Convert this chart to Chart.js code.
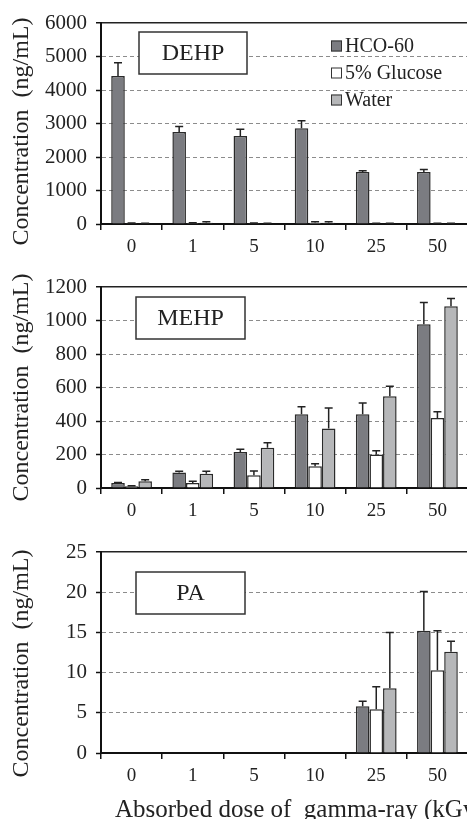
<!DOCTYPE html>
<html>
<head>
<meta charset="utf-8">
<script src="https://cdn.jsdelivr.net/npm/chart.js@4"></script>
<style>
  body { margin: 0; width: 467px; height: 819px; overflow: hidden; background: #fff; position: relative; }
  .panel { position: absolute; left: 0; }
</style>
</head>
<body>
<div class="panel" style="top:0px"><canvas id="dehp" width="476" height="264"></canvas></div>
<div class="panel" style="top:264px"><canvas id="mehp" width="476" height="264"></canvas></div>
<div class="panel" style="top:528px"><canvas id="pa" width="476" height="300"></canvas></div>
<script>
var doses = ['0', '1', '5', '10', '25', '50'];
var seriesNames = ['HCO-60', '5% Glucose', 'Water'];
var seriesColors = ['#7b7c81', '#ffffff', '#b6b7b9'];

// DEHP (ng/mL), mean and upper error
var dehpHco = [4420, 2750, 2630, 2860, 1550, 1550];
var dehpHcoErr = [390, 160, 200, 220, 40, 80];
var dehpGlu = [25, 30, 25, 40, 20, 20];
var dehpGluErr = [5, 10, 5, 30, 5, 5];
var dehpWat = [20, 35, 20, 35, 20, 20];
var dehpWatErr = [5, 35, 5, 35, 5, 5];
var dehpTicks = [0, 1000, 2000, 3000, 4000, 5000, 6000];

// MEHP
var mehpHco = [30, 92, 215, 440, 440, 978];
var mehpHcoErr = [3, 8, 17, 45, 68, 130];
var mehpGlu = [10, 30, 76, 130, 200, 418];
var mehpGluErr = [3, 10, 26, 15, 22, 37];
var mehpWat = [40, 85, 240, 355, 548, 1085];
var mehpWatErr = [10, 15, 30, 123, 60, 47];
var mehpTicks = [0, 200, 400, 600, 800, 1000, 1200];

// PA (not detected below 25 kGy)
var paHco = [null, null, null, null, 5.8, 15.2];
var paHcoErr = [0, 0, 0, 0, 0.65, 4.9];
var paGlu = [null, null, null, null, 5.45, 10.3];
var paGluErr = [0, 0, 0, 0, 2.8, 4.9];
var paWat = [null, null, null, null, 8.05, 12.6];
var paWatErr = [0, 0, 0, 0, 6.95, 1.3];
var paTicks = [0, 5, 10, 15, 20, 25];

var yTitle = 'Concentration  (ng/mL)';
var xTitle = 'Absorbed dose of  gamma-ray (kGy)';

Chart.defaults.font.family = "'Liberation Serif', 'DejaVu Serif', serif";
Chart.defaults.color = '#222';

var errorBars = {
  id: 'errorBars',
  afterDatasetsDraw: function(chart) {
    var ctx = chart.ctx, y = chart.scales.y;
    ctx.save();
    ctx.strokeStyle = '#222';
    ctx.lineWidth = 1.5;
    chart.data.datasets.forEach(function(ds, di) {
      var meta = chart.getDatasetMeta(di);
      meta.data.forEach(function(bar, i) {
        var v = ds.data[i], e = ds.errors[i];
        if (v == null || !e) return;
        var top = y.getPixelForValue(v + e);
        ctx.beginPath();
        ctx.moveTo(bar.x, bar.y);
        ctx.lineTo(bar.x, top);
        ctx.moveTo(bar.x - 4, top);
        ctx.lineTo(bar.x + 4, top);
        ctx.stroke();
      });
    });
    ctx.restore();
  }
};

// panel name box, axis titles, legend
var deco = {
  id: 'deco',
  afterDraw: function(chart, args, opts) {
    var ctx = chart.ctx, a = chart.chartArea;
    ctx.save();
    ctx.translate(22, (a.top + a.bottom) / 2 + opts.titleShift);
    ctx.rotate(-Math.PI / 2);
    ctx.font = "24px 'Liberation Serif', serif";
    ctx.fillStyle = '#222';
    ctx.textAlign = 'center';
    ctx.textBaseline = 'middle';
    ctx.fillText(yTitle, 0, 0);
    ctx.restore();

    if (opts.xTitle) {
      ctx.save();
      ctx.font = "25px 'Liberation Serif', serif";
      ctx.fillStyle = '#222';
      ctx.textAlign = 'left';
      ctx.textBaseline = 'middle';
      ctx.fillText(xTitle, a.left + 14, a.bottom + 57);
      ctx.restore();
    }

    var b = opts.box;
    ctx.save();
    ctx.fillStyle = '#fff';
    ctx.strokeStyle = '#333';
    ctx.lineWidth = 1.5;
    ctx.fillRect(a.left + b.dx, a.top + b.dy, b.w, b.h);
    ctx.strokeRect(a.left + b.dx, a.top + b.dy, b.w, b.h);
    ctx.fillStyle = '#222';
    ctx.font = "24px 'Liberation Serif', serif";
    ctx.textAlign = 'center';
    ctx.textBaseline = 'middle';
    ctx.fillText(b.text, a.left + b.dx + b.w / 2, a.top + b.dy + b.h / 2 + 1);
    ctx.restore();

    if (opts.legend) {
      ctx.save();
      ctx.font = "20px 'Liberation Serif', serif";
      ctx.textBaseline = 'middle';
      chart.data.datasets.forEach(function(ds, i) {
        var lx = a.left + 230, ly = a.top + 23 + i * 27;
        ctx.fillStyle = ds.backgroundColor;
        ctx.fillRect(lx, ly - 5.5, 11, 11);
        ctx.strokeStyle = '#333';
        ctx.lineWidth = 1;
        ctx.strokeRect(lx + 0.5, ly - 5, 10, 10);
        ctx.fillStyle = '#222';
        ctx.fillText(ds.label, lx + 14, ly + 1);
      });
      ctx.restore();
    }
  }
};

function makePanel(id, hco, hcoErr, glu, gluErr, wat, watErr, ticks, opts) {
  var max = ticks[ticks.length - 1];
  var values = [hco, glu, wat], errs = [hcoErr, gluErr, watErr];
  var isTop = function(c) { return c.tick && c.tick.value === max; };
  var datasets = seriesNames.map(function(name, i) {
    return {
      label: name,
      data: values[i],
      errors: errs[i],
      backgroundColor: seriesColors[i],
      borderColor: '#2a2a2a',
      borderWidth: 1.5,
      categoryPercentage: 0.666,
      barPercentage: 1.0
    };
  });
  return new Chart(document.getElementById(id), {
    type: 'bar',
    data: { labels: doses, datasets: datasets },
    options: {
      responsive: false,
      animation: false,
      layout: { padding: { top: opts.padTop, right: 8, left: 0, bottom: 0 } },
      plugins: {
        legend: { display: false },
        tooltip: { enabled: false },
        deco: opts.deco
      },
      scales: {
        x: {
          grid: { offset: true, drawOnChartArea: false, tickLength: 6, color: '#111', lineWidth: 1.5 },
          border: { display: true, color: '#111', width: 2 },
          ticks: { font: { size: 19 }, color: '#222', padding: 6, maxRotation: 0 },
          afterFit: function(s) { s.height = opts.xHeight; }
        },
        y: {
          min: 0,
          max: max,
          afterBuildTicks: function(s) { s.ticks = ticks.map(function(v) { return { value: v }; }); },
          grid: {
            color: function(c) { return isTop(c) ? '#222' : '#8c8c8c'; },
            lineWidth: function(c) { return isTop(c) ? 1.5 : 1; },
            tickLength: 5,
            tickColor: '#111',
            tickWidth: 1.5,
            tickBorderDash: []
          },
          border: {
            display: true, color: '#111', width: 2,
            dash: function(c) { return isTop(c) ? [] : [4, 3]; }
          },
          ticks: {
            font: { size: 21 }, color: '#222', padding: 9,
            callback: function(v) { return String(v); }
          },
          afterFit: function(s) { s.width = 101; }
        }
      }
    },
    plugins: [errorBars, deco]
  });
}

makePanel('dehp', dehpHco, dehpHcoErr, dehpGlu, dehpGluErr, dehpWat, dehpWatErr, dehpTicks, {
  padTop: 23, xHeight: 40,
  deco: { titleShift: 8, legend: true, box: { text: 'DEHP', dx: 38, dy: 9, w: 108, h: 42 } }
});
makePanel('mehp', mehpHco, mehpHcoErr, mehpGlu, mehpGluErr, mehpWat, mehpWatErr, mehpTicks, {
  padTop: 23, xHeight: 40,
  deco: { titleShift: 0, legend: false, box: { text: 'MEHP', dx: 35, dy: 10, w: 109, h: 42 } }
});
makePanel('pa', paHco, paHcoErr, paGlu, paGluErr, paWat, paWatErr, paTicks, {
  padTop: 24, xHeight: 75, xTitle: true,
  deco: { titleShift: 11, legend: false, xTitle: true, box: { text: 'PA', dx: 35, dy: 20, w: 109, h: 42 } }
});
</script>
</body>
</html>
